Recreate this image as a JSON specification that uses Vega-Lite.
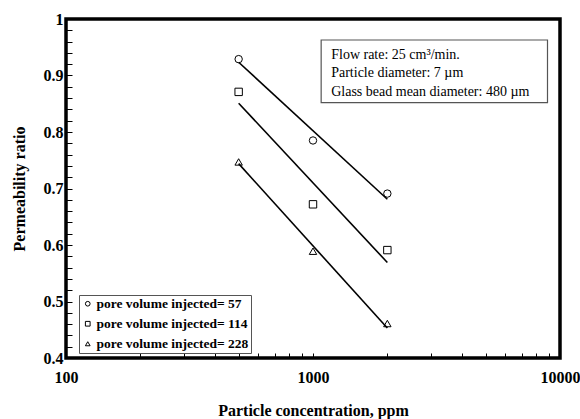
{
  "$schema": "https://vega.github.io/schema/vega-lite/v6.json",
  "width": 494,
  "height": 339,
  "autosize": {"type": "none"},
  "padding": {"left": 66, "top": 19, "right": 20, "bottom": 61},
  "background": "white",
  "config": {
    "view": {"stroke": "black", "strokeWidth": 3.5},
    "font": "Liberation Serif",
    "axis": {"labelOverlap": false, "labelFlush": false, "labelBound": false}
  },
  "datasets": {
    "points": [
      {"conc": 500, "ratio": 0.929, "series": "pore volume injected= 57"},
      {"conc": 1000, "ratio": 0.785, "series": "pore volume injected= 57"},
      {"conc": 2000, "ratio": 0.691, "series": "pore volume injected= 57"},
      {"conc": 500, "ratio": 0.871, "series": "pore volume injected= 114"},
      {"conc": 1000, "ratio": 0.672, "series": "pore volume injected= 114"},
      {"conc": 2000, "ratio": 0.591, "series": "pore volume injected= 114"},
      {"conc": 500, "ratio": 0.747, "series": "pore volume injected= 228"},
      {"conc": 1000, "ratio": 0.589, "series": "pore volume injected= 228"},
      {"conc": 2000, "ratio": 0.461, "series": "pore volume injected= 228"}
    ],
    "fits": [
      {"conc": 500, "ratio": 0.9235, "series": "pore volume injected= 57"},
      {"conc": 2000, "ratio": 0.681, "series": "pore volume injected= 57"},
      {"conc": 500, "ratio": 0.851, "series": "pore volume injected= 114"},
      {"conc": 2000, "ratio": 0.569, "series": "pore volume injected= 114"},
      {"conc": 500, "ratio": 0.744, "series": "pore volume injected= 228"},
      {"conc": 2000, "ratio": 0.453, "series": "pore volume injected= 228"}
    ],
    "notebox": [
      {"conc": 1079, "conc2": 8900, "ratio": 0.9628, "ratio2": 0.8519}
    ],
    "note": [
      {"conc": 1185, "ratio": 0.9363, "lines": ["Flow rate: 25 cm³/min.", "Particle diameter: 7 µm", "Glass bead mean diameter: 480 µm"]}
    ]
  },
  "encoding": {
    "x": {
      "field": "conc",
      "type": "quantitative",
      "scale": {"type": "log", "domain": [100, 10000], "nice": false},
      "axis": {
        "title": "Particle concentration, ppm",
        "titleFont": "Liberation Serif",
        "titleFontSize": 16,
        "titleFontWeight": "bold",
        "titleColor": "black",
        "titlePadding": 17,
        "values": [100, 200, 300, 400, 500, 600, 700, 800, 900, 1000, 2000, 3000, 4000, 5000, 6000, 7000, 8000, 9000, 10000],
        "labelExpr": "indexof([100, 1000, 10000], round(datum.value)) >= 0 ? format(datum.value, 'd') : ''",
        "labelFont": "Liberation Serif",
        "labelFontSize": 16,
        "labelFontWeight": "bold",
        "labelColor": "black",
        "labelOverlap": false,
        "labelFlush": false,
        "labelBound": false,
        "labelPadding": 16,
        "domain": false,
        "grid": false,
        "tickSize": -5,
        "tickColor": "black",
        "tickWidth": 1
      }
    },
    "y": {
      "field": "ratio",
      "type": "quantitative",
      "scale": {"domain": [0.4, 1], "nice": false, "zero": false},
      "axis": {
        "title": "Permeability ratio",
        "titleFont": "Liberation Serif",
        "titleFontSize": 16,
        "titleFontWeight": "bold",
        "titleColor": "black",
        "titlePadding": 16,
        "values": [0.4, 0.42, 0.44, 0.46, 0.48, 0.5, 0.52, 0.54, 0.56, 0.58, 0.6, 0.62, 0.64, 0.66, 0.68, 0.7, 0.72, 0.74, 0.76, 0.78, 0.8, 0.82, 0.84, 0.86, 0.88, 0.9, 0.92, 0.94, 0.96, 0.98, 1],
        "labelExpr": "abs(datum.value * 10 - round(datum.value * 10)) < 0.001 ? format(datum.value, '~g') : ''",
        "labelFont": "Liberation Serif",
        "labelFontSize": 16,
        "labelFontWeight": "bold",
        "labelColor": "black",
        "labelOverlap": false,
        "labelFlush": false,
        "labelBound": false,
        "labelPadding": 9,
        "domain": false,
        "grid": false,
        "tickSize": -6,
        "tickColor": "black",
        "tickWidth": 1
      }
    }
  },
  "layer": [
    {
      "data": {"name": "fits"},
      "mark": {"type": "line", "color": "black", "strokeWidth": 1.6},
      "encoding": {
        "detail": {"field": "series"}
      }
    },
    {
      "data": {"name": "points"},
      "mark": {"type": "point", "filled": false, "color": "black", "size": 55, "strokeWidth": 1, "opacity": 1},
      "encoding": {
        "shape": {
          "field": "series",
          "type": "nominal",
          "scale": {
            "domain": ["pore volume injected= 57", "pore volume injected= 114", "pore volume injected= 228"],
            "range": ["circle", "square", "triangle-up"]
          },
          "legend": {
            "title": null,
            "orient": "none",
            "legendX": 13,
            "legendY": 276,
            "fillColor": "white",
            "strokeColor": "#555",
            "padding": 2,
            "rowPadding": 5,
            "symbolSize": 22,
            "symbolStrokeColor": "black",
            "symbolFillColor": "white",
            "symbolStrokeWidth": 1,
            "labelFont": "Liberation Serif",
            "labelFontSize": 13.5,
            "labelFontWeight": "bold",
            "labelColor": "black",
            "labelOffset": 2,
            "labelLimit": 300
          }
        }
      }
    },
    {
      "data": {"name": "notebox"},
      "mark": {"type": "rect", "fill": "white", "stroke": "#555", "strokeWidth": 1.2},
      "encoding": {
        "x2": {"field": "conc2"},
        "y2": {"field": "ratio2"}
      }
    },
    {
      "data": {"name": "note"},
      "mark": {"type": "text", "align": "left", "baseline": "middle", "font": "Liberation Serif", "fontSize": 14, "lineHeight": 18.3, "color": "black"},
      "encoding": {
        "text": {"field": "lines"}
      }
    }
  ]
}
